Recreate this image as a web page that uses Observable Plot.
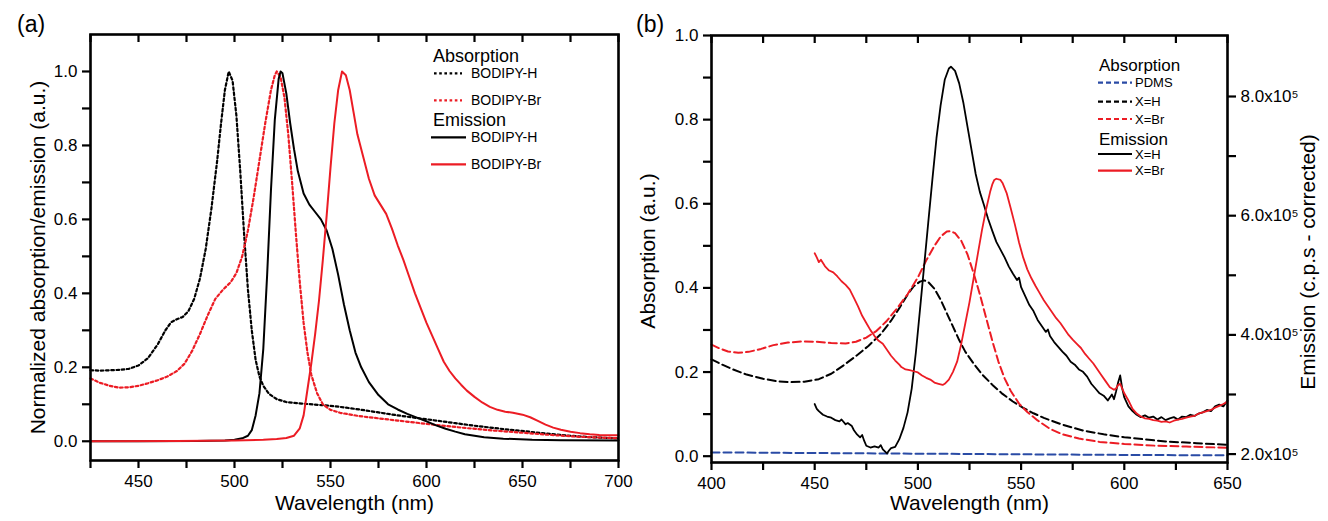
<!DOCTYPE html>
<html><head><meta charset="utf-8">
<script src="https://cdn.jsdelivr.net/npm/d3@7"></script>
<script src="https://cdn.jsdelivr.net/npm/@observablehq/plot@0.6"></script>
<style>
body{margin:0;background:#fff;}
#wrap{position:relative;width:1328px;height:521px;font-family:"Liberation Sans",Arial,sans-serif;background:#fff;}
#pa,#pb{position:absolute;top:0;}
#pa{left:0;width:650px;} #pb{left:630px;width:698px;}
#overlay{position:absolute;left:0;top:0;pointer-events:none;}
</style></head><body>
<div id="wrap"><div id="pa"></div><div id="pb"></div><svg id="overlay" width="1328" height="521"></svg></div>
<script>
// ---------- Panel (a) data: [wavelength nm, normalized intensity] ----------
const absH_a = [[425,0.192],[430,0.191],[435,0.192],[440,0.193],[445,0.196],[450,0.205],[455,0.225],[460,0.262],[464,0.300],[467,0.322],[470,0.330],[473,0.336],[476,0.352],[479,0.385],[482,0.440],[485,0.520],[488,0.630],[491,0.760],[493,0.860],[495,0.950],[497,1.000],[499,0.975],[501,0.880],[503,0.730],[505,0.560],[507,0.410],[509,0.300],[511,0.220],[513,0.175],[515,0.150],[518,0.128],[522,0.114],[527,0.106],[535,0.102],[545,0.098],[555,0.093],[565,0.086],[575,0.078],[585,0.070],[595,0.063],[605,0.056],[615,0.049],[625,0.042],[640,0.033],[655,0.025],[670,0.017],[685,0.011],[700,0.008]];
const absBr_a = [[425,0.170],[430,0.158],[435,0.150],[440,0.145],[445,0.146],[450,0.150],[455,0.157],[460,0.165],[465,0.175],[470,0.190],[474,0.210],[478,0.245],[482,0.290],[486,0.340],[490,0.385],[494,0.410],[498,0.430],[501,0.455],[504,0.500],[507,0.570],[510,0.660],[513,0.760],[516,0.860],[519,0.950],[521,0.990],[522,1.000],[524,0.985],[526,0.930],[528,0.830],[530,0.700],[532,0.560],[534,0.430],[536,0.320],[538,0.240],[540,0.180],[543,0.130],[546,0.100],[550,0.085],[555,0.077],[565,0.068],[575,0.062],[585,0.056],[595,0.050],[605,0.044],[620,0.036],[635,0.029],[650,0.023],[665,0.017],[680,0.012],[700,0.008]];
const emH_a = [[425,0.0],[450,0.0],[480,0.001],[495,0.002],[500,0.004],[504,0.008],[507,0.015],[509,0.03],[511,0.07],[513,0.13],[515,0.25],[517,0.45],[519,0.68],[521,0.87],[523,0.98],[524,1.0],[525,0.995],[527,0.94],[529,0.86],[531,0.79],[533,0.73],[536,0.67],[539,0.64],[542,0.62],[545,0.60],[548,0.57],[551,0.52],[554,0.45],[557,0.37],[560,0.30],[563,0.24],[566,0.20],[570,0.16],[575,0.125],[580,0.10],[585,0.086],[590,0.074],[595,0.064],[600,0.054],[605,0.043],[610,0.034],[615,0.026],[620,0.019],[630,0.011],[640,0.007],[655,0.004],[670,0.003],[700,0.002]];
const emBr_a = [[425,0.0],[470,0.001],[500,0.002],[515,0.004],[522,0.006],[527,0.009],[531,0.015],[534,0.035],[536,0.07],[538,0.14],[540,0.21],[542,0.29],[544,0.38],[546,0.49],[548,0.61],[550,0.74],[552,0.86],[554,0.95],[556,1.0],[558,0.99],[560,0.95],[562,0.89],[564,0.83],[567,0.77],[570,0.71],[573,0.665],[576,0.64],[579,0.615],[582,0.575],[585,0.53],[588,0.49],[591,0.445],[594,0.40],[597,0.36],[600,0.32],[603,0.285],[606,0.25],[609,0.215],[612,0.19],[615,0.17],[618,0.153],[621,0.137],[625,0.12],[629,0.105],[633,0.093],[637,0.085],[641,0.08],[645,0.077],[650,0.072],[654,0.065],[658,0.055],[662,0.045],[666,0.037],[670,0.031],[675,0.026],[680,0.022],[685,0.019],[690,0.017],[695,0.016],[700,0.016]];

// ---------- Panel (b) data ----------
// absorption [nm, a.u.]
const absPDMS_b = [[400,0.009],[450,0.0075],[500,0.006],[550,0.0045],[600,0.003],[650,0.002]];
const absH_b = [[400,0.230],[405,0.218],[410,0.207],[417,0.194],[425,0.184],[432,0.178],[438,0.176],[445,0.177],[452,0.183],[458,0.196],[464,0.216],[470,0.238],[476,0.262],[482,0.290],[487,0.322],[491,0.352],[495,0.384],[498,0.404],[501,0.415],[503,0.418],[505,0.414],[508,0.398],[511,0.372],[514,0.340],[517,0.308],[520,0.276],[523,0.248],[527,0.220],[531,0.195],[536,0.170],[541,0.148],[546,0.130],[551,0.115],[556,0.102],[561,0.091],[570,0.075],[580,0.061],[590,0.052],[600,0.045],[610,0.040],[620,0.035],[635,0.031],[650,0.027]];
const absBr_b = [[400,0.265],[404,0.256],[408,0.249],[413,0.246],[418,0.248],[424,0.255],[430,0.264],[437,0.270],[444,0.273],[451,0.272],[458,0.269],[465,0.268],[470,0.272],[475,0.282],[480,0.298],[485,0.322],[490,0.352],[495,0.385],[500,0.425],[504,0.465],[508,0.500],[511,0.522],[514,0.534],[516,0.535],[518,0.530],[521,0.512],[524,0.480],[527,0.435],[530,0.385],[533,0.330],[536,0.275],[539,0.225],[542,0.185],[545,0.155],[549,0.125],[553,0.105],[558,0.085],[564,0.065],[570,0.052],[578,0.042],[588,0.034],[600,0.029],[615,0.025],[630,0.023],[650,0.020]];
// emission [nm, c.p.s corrected]
const emH_b = [[450,284000],[451,276000],[452,272000],[454,266000],[456,263000],[458,261000],[460,257000],[462,255000],[463,258000],[465,250000],[466,252000],[468,247000],[469,240000],[470.5,233000],[472,228000],[473,232000],[474,222000],[475,214000],[477,211000],[479,213000],[481,211000],[482,215000],[483,208000],[485,201000],[486,206000],[487,210000],[489,212000],[491,225000],[493,244000],[495,270000],[497,310000],[499,370000],[501,442000],[503,515000],[505,588000],[507,660000],[509,730000],[511,785000],[513,828000],[515,847000],[516,850000],[518,843000],[520,822000],[522,790000],[524,750000],[526,710000],[528,670000],[530,640000],[532,618000],[534,595000],[536,575000],[538,556000],[540,543000],[542,530000],[544,515000],[546,503000],[548,492000],[549,496000],[550,480000],[552,465000],[554,450000],[556,440000],[558,425000],[560,415000],[562,405000],[563,409000],[564,398000],[566,388000],[568,380000],[570,372000],[572,365000],[574,355000],[576,350000],[578,342000],[580,338000],[582,330000],[584,318000],[586,310000],[588,302000],[590,298000],[592,290000],[594,300000],[595,292000],[596,305000],[597,320000],[598,332000],[599,310000],[600,295000],[602,280000],[604,272000],[606,266000],[608,262000],[610,265000],[612,261000],[614,263000],[616,258000],[618,262000],[620,257000],[622,260000],[624,262000],[626,258000],[628,263000],[630,262000],[632,266000],[634,264000],[636,268000],[638,270000],[640,274000],[642,272000],[644,280000],[646,283000],[648,280000],[650,290000]];
const emBr_b = [[450,537000],[451,530000],[452,522000],[453,526000],[455,515000],[457,508000],[459,505000],[461,498000],[463,490000],[465,484000],[467,476000],[469,462000],[471,448000],[473,432000],[475,420000],[477,408000],[479,398000],[481,390000],[483,385000],[485,375000],[487,365000],[489,357000],[491,350000],[492,346000],[494,342000],[496,341000],[498,339000],[500,337000],[502,332000],[504,328000],[506,325000],[508,320000],[510,318000],[512,316000],[513,318000],[515,325000],[517,338000],[519,355000],[521,385000],[523,420000],[525,455000],[527,495000],[529,535000],[531,575000],[533,610000],[535,640000],[536,652000],[537,660000],[538,662000],[540,660000],[541,655000],[543,638000],[545,612000],[547,585000],[549,555000],[551,530000],[553,510000],[555,495000],[557,482000],[559,470000],[561,458000],[563,448000],[565,438000],[567,428000],[569,420000],[571,410000],[573,400000],[575,392000],[577,385000],[579,378000],[581,368000],[583,360000],[585,352000],[587,342000],[589,332000],[591,322000],[593,312000],[595,308000],[596,310000],[597,316000],[598,318000],[599,310000],[600,302000],[602,290000],[604,276000],[606,268000],[608,263000],[610,260000],[612,259000],[614,257000],[616,256000],[618,254000],[620,255000],[622,253000],[624,256000],[626,258000],[628,259000],[630,261000],[632,263000],[634,264000],[636,268000],[638,270000],[640,272000],[642,274000],[644,278000],[646,281000],[648,284000],[650,288000]];

// ---------- ticks & domains ----------
const xDomA = [425, 700], yDomA = [-0.052, 1.1];
const xDomB = [400, 650], yDomB = [-0.015, 1.0];
const xTicksA = [425,450,475,500,525,550,575,600,625,650,675,700];
const xTicksB = [400,425,450,475,500,525,550,575,600,625,650];
const yTicksL = [0,1,2,3,4,5,6,7,8,9,10].map(i => i / 10);
const emTicks = [200000,300000,400000,500000,600000,700000,800000];

const FONT = "'Liberation Sans', Arial, Helvetica, sans-serif";
const RED = "#ec1c24", BLACK = "#000000", BLUE = "#2a4ba5", AXIS = "#000000";
const DOT = "2.6,2.6", DASH = "8,4";
const px = {x: d => d[0], y: d => d[1]};
const fmtY = d => (Math.round(d * 10) % 2 === 0 ? d.toFixed(1) : "");

// ---------- Panel (a) ----------
const A = {w: 650, h: 521, t: 34, r: 32, b: 61, l: 90};
const innerA = A.h - A.t - A.b;
const plotA = Plot.plot({
  width: A.w, height: A.h, marginTop: A.t, marginRight: A.r, marginBottom: A.b, marginLeft: A.l,
  style: {fontFamily: FONT, background: "transparent", color: "black", overflow: "visible"},
  x: {domain: xDomA},
  y: {domain: yDomA},
  marks: [
    Plot.line(absH_a, {...px, stroke: BLACK, strokeWidth: 2.2, strokeDasharray: DOT}),
    Plot.line(absBr_a, {...px, stroke: RED, strokeWidth: 2.2, strokeDasharray: DOT}),
    Plot.line(emH_a, {...px, stroke: BLACK, strokeWidth: 2}),
    Plot.line(emBr_a, {...px, stroke: RED, strokeWidth: 2}),
    Plot.frame({stroke: AXIS, strokeWidth: 2.6}),
    Plot.tickX(xTicksA, {x: d => d, insetBottom: innerA - 8, stroke: AXIS, strokeWidth: 2.2}),
    Plot.axisX({anchor: "bottom", ticks: xTicksA, tickSize: 8, tickPadding: 6, stroke: AXIS, strokeWidth: 2.2, fontSize: 17,
      tickFormat: d => (d % 50 === 0 ? String(d) : ""), label: null}),
    Plot.axisY({anchor: "left", ticks: yTicksL, tickSize: 8, tickPadding: 5, stroke: AXIS, strokeWidth: 2.2, fontSize: 17,
      tickFormat: fmtY, label: null}),
    Plot.text(["Wavelength (nm)"], {frameAnchor: "bottom", textAnchor: "middle", dy: 49, fontSize: 21}),
    Plot.text(["Normalized absorption/emission (a.u.)"], {frameAnchor: "left", textAnchor: "middle", rotate: -90, dx: -52, dy: 10, fontSize: 21})
  ]
});
document.getElementById("pa").appendChild(plotA);

// ---------- Panel (b) ----------
const B = {w: 698, h: 521, t: 35, r: 101, b: 59, l: 81};
const innerB = B.h - B.t - B.b;
const toLeft = d3.scaleLinear().domain([200000, 800000]).range([0.005, 0.855]);
const em = {x: d => d[0], y: d => toLeft(d[1])};
const plotB = Plot.plot({
  width: B.w, height: B.h, marginTop: B.t, marginRight: B.r, marginBottom: B.b, marginLeft: B.l,
  style: {fontFamily: FONT, background: "transparent", color: "black", overflow: "visible"},
  x: {domain: xDomB},
  y: {domain: yDomB},
  marks: [
    Plot.line(absPDMS_b, {...px, stroke: BLUE, strokeWidth: 2, strokeDasharray: DASH}),
    Plot.line(absH_b, {...px, stroke: BLACK, strokeWidth: 2, strokeDasharray: DASH}),
    Plot.line(absBr_b, {...px, stroke: RED, strokeWidth: 2, strokeDasharray: DASH}),
    Plot.line(emH_b, {...em, stroke: BLACK, strokeWidth: 1.8}),
    Plot.line(emBr_b, {...em, stroke: RED, strokeWidth: 1.8}),
    Plot.frame({stroke: AXIS, strokeWidth: 2.6}),
    Plot.tickX(xTicksB, {x: d => d, insetBottom: innerB - 8, stroke: AXIS, strokeWidth: 2.2}),
    Plot.axisX({anchor: "bottom", ticks: xTicksB, tickSize: 8, tickPadding: 6, stroke: AXIS, strokeWidth: 2.2, fontSize: 17,
      tickFormat: d => (d % 50 === 0 ? String(d) : ""), label: null}),
    Plot.axisY({anchor: "left", ticks: yTicksL, tickSize: 8, tickPadding: 5, stroke: AXIS, strokeWidth: 2.2, fontSize: 17,
      tickFormat: fmtY, label: null}),
    Plot.axisY({anchor: "right", ticks: emTicks.map(toLeft), tickSize: 8, tickPadding: 5, stroke: AXIS, strokeWidth: 2.2, fontSize: 17,
      tickFormat: v => { const e = Math.round(toLeft.invert(v) / 100000); return e % 2 === 0 ? e + ".0x10\u2075" : ""; }, label: null}),
    Plot.text(["Wavelength (nm)"], {frameAnchor: "bottom", textAnchor: "middle", dy: 47, fontSize: 21}),
    Plot.text(["Absorption (a.u.)"], {frameAnchor: "left", textAnchor: "middle", rotate: -90, dx: -63, dy: 2, fontSize: 21}),
    Plot.text(["Emission (c.p.s - corrected)"], {frameAnchor: "right", textAnchor: "middle", rotate: -90, dx: 81, dy: 13, fontSize: 21})
  ]
});
document.getElementById("pb").appendChild(plotB);

// ---------- Overlay: legends and panel letters ----------
const ov = d3.select("#overlay").style("font-family", FONT);
function txt(x, y, s, size, baseline) {
  ov.append("text").attr("x", x).attr("y", y).attr("font-size", size)
    .attr("dominant-baseline", baseline || "alphabetic").attr("fill", "#000").text(s);
}
function sample(x1, x2, y, color, dash) {
  const l = ov.append("line").attr("x1", x1).attr("x2", x2).attr("y1", y).attr("y2", y)
    .attr("stroke", color).attr("stroke-width", 2.2);
  if (dash) l.attr("stroke-dasharray", dash);
}
txt(17, 32, "(a)", 23);
txt(636, 32, "(b)", 23);

// legend (a)
txt(433, 62, "Absorption", 18);
sample(434, 462, 73.3, BLACK, DOT); txt(471, 73.3, "BODIPY-H", 14, "central");
sample(434, 462, 100.3, RED, DOT); txt(471, 100.3, "BODIPY-Br", 14, "central");
txt(433, 126, "Emission", 18);
sample(431, 466, 137.3, BLACK); txt(471, 137.3, "BODIPY-H", 14, "central");
sample(431, 466, 164.3, RED); txt(471, 164.3, "BODIPY-Br", 14, "central");

// legend (b)
txt(1099, 71, "Absorption", 17);
sample(1098, 1132, 82.7, BLUE, "5,3"); txt(1135, 82.7, "PDMS", 13, "central");
sample(1098, 1132, 101.7, BLACK, "5,3"); txt(1135, 101.7, "X=H", 13, "central");
sample(1098, 1132, 119, RED, "5,3"); txt(1135, 119, "X=Br", 13, "central");
txt(1099, 145, "Emission", 17);
sample(1098, 1132, 154, BLACK); txt(1135, 154, "X=H", 13, "central");
sample(1098, 1132, 170.7, RED); txt(1135, 170.7, "X=Br", 13, "central");
</script>
</body></html>
